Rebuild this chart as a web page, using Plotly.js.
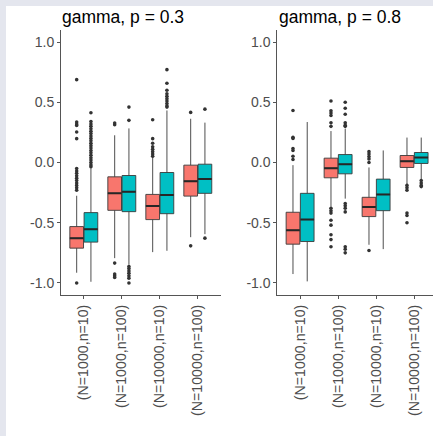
<!DOCTYPE html>
<html>
<head>
<meta charset="utf-8">
<script src="https://cdn.plot.ly/plotly-3.0.1.min.js"></script>
<style>html,body{margin:0;padding:0;background:#fff;}#chart{width:433px;height:436px;}</style>
</head>
<body>
<div id="chart"></div>
<script>
// ---- data ----
const categories = ["(N=1000,n=10)", "(N=1000,n=100)", "(N=10000,n=10)", "(N=10000,n=100)"];
const panelTitles = ["gamma, p = 0.3", "gamma, p = 0.8"];

// panel p = 0.3, red series
const p03RedQ1 = [-0.711, -0.397, -0.474, -0.279];
const p03RedMedian = [-0.628, -0.256, -0.361, -0.155];
const p03RedQ3 = [-0.532, -0.119, -0.265, -0.022];
const p03RedLower = [-0.915, -0.794, -0.744, -0.62];
const p03RedUpper = [-0.276, 0.226, 0.047, 0.363];
const p03RedOutliers = [
  [0.688, 0.336, 0.32, 0.308, 0.253, 0.198, -0.05, -0.07, -0.09, -0.11, -0.13, -0.15, -0.17, -0.19, -0.21, -0.23, -1.0],
  [0.327, 0.314, -0.835, -0.926, -0.94, -0.954],
  [0.355, 0.198, 0.16, 0.13, 0.11, 0.09, 0.07, 0.052],
  [0.416, -0.692]
];
// panel p = 0.3, teal series
const p03TealQ1 = [-0.661, -0.408, -0.425, -0.256];
const p03TealMedian = [-0.554, -0.243, -0.27, -0.138];
const p03TealQ3 = [-0.416, -0.108, -0.083, -0.014];
const p03TealLower = [-0.99, -0.849, -0.733, -0.595];
const p03TealUpper = [-0.05, 0.283, 0.432, 0.331];
const p03TealOutliers = [
  [0.413, 0.34, 0.32, 0.30, 0.28, 0.26, 0.24, 0.22, 0.20, 0.18, 0.16, 0.14, 0.12, 0.10, 0.08, 0.06, 0.04, 0.02, 0.0, -0.02, -0.036],
  [0.46, 0.35, -0.863, -0.88, -0.9, -0.92, -0.94, -0.96, -1.0],
  [0.771, 0.658, 0.6, 0.57, 0.55, 0.53, 0.51, 0.49, 0.47, 0.46],
  [0.443, -0.628]
];
// panel p = 0.8, red series
const p08RedQ1 = [-0.678, -0.127, -0.449, -0.041];
const p08RedMedian = [-0.562, -0.047, -0.369, 0.011];
const p08RedQ3 = [-0.413, 0.036, -0.289, 0.058];
const p08RedLower = [-0.926, -0.367, -0.683, -0.188];
const p08RedUpper = [-0.022, 0.261, -0.041, 0.207];
const p08RedOutliers = [
  [0.432, 0.21, 0.2, 0.116, 0.1, 0.052, 0.025],
  [0.51, 0.43, 0.41, 0.39, 0.33, 0.3, -0.38, -0.4, -0.42, -0.48, -0.52, -0.6, -0.64, -0.7],
  [0.09, 0.07, 0.05, 0.03, 0.0, -0.73],
  [-0.19, -0.21, -0.23, -0.42, -0.44, -0.5]
];
// panel p = 0.8, teal series
const p08TealQ1 = [-0.656, -0.094, -0.4, -0.008];
const p08TealMedian = [-0.474, -0.015, -0.265, 0.041];
const p08TealQ3 = [-0.256, 0.066, -0.138, 0.083];
const p08TealLower = [-0.987, -0.3, -0.719, -0.138];
const p08TealUpper = [0.336, 0.281, 0.1, 0.207];
const p08TealOutliers = [
  [],
  [0.5, 0.45, 0.4, 0.33, 0.31, 0.3, -0.34, -0.36, -0.38, -0.41, -0.7, -0.72, -0.75],
  [],
  [-0.15, -0.17, -0.19, -0.2]
];

const yTickVals = [-1.0, -0.5, 0.0, 0.5, 1.0];
const yTickText = ["-1.0", "-0.5", "0.0", "0.5", "1.0"];

// ---- styling ----
const RED = "#F8766D", TEAL = "#00BFC4";
const DODGE = 0.1875, BOXW = 0.36;
const FONT = "Liberation Sans, Arial, Helvetica, sans-serif";
const W = 433, H = 436;

const positions = categories.map((c, i) => i + 1);

function boxTrace(xa, ya, off, color, q1, med, q3, lo, up) {
  return {
    type: "box", xaxis: xa, yaxis: ya,
    x: positions.map(p => p + off),
    q1: q1, median: med, q3: q3, lowerfence: lo, upperfence: up,
    width: BOXW, whiskerwidth: 0, boxpoints: false,
    fillcolor: color, line: {color: "#3a3a3a", width: 0.9},
    hoverinfo: "skip", showlegend: false
  };
}
function medianTrace(xa, ya, off, med) {
  const xs = [], ys = [];
  med.forEach((m, i) => {
    xs.push(positions[i] + off - BOXW / 2, positions[i] + off + BOXW / 2, null);
    ys.push(m, m, null);
  });
  return {type: "scatter", mode: "lines", xaxis: xa, yaxis: ya, x: xs, y: ys,
    line: {color: "#262626", width: 2}, hoverinfo: "skip", showlegend: false};
}
function outlierTrace(xa, ya, off, outs) {
  const xs = [], ys = [];
  outs.forEach((arr, i) => arr.forEach(v => { xs.push(positions[i] + off); ys.push(v); }));
  return {type: "scatter", mode: "markers", xaxis: xa, yaxis: ya, x: xs, y: ys,
    marker: {color: "#333333", size: 3.6}, hoverinfo: "skip", showlegend: false};
}

const traces = [
  boxTrace("x", "y", -DODGE, RED, p03RedQ1, p03RedMedian, p03RedQ3, p03RedLower, p03RedUpper),
  boxTrace("x", "y", DODGE, TEAL, p03TealQ1, p03TealMedian, p03TealQ3, p03TealLower, p03TealUpper),
  medianTrace("x", "y", -DODGE, p03RedMedian),
  medianTrace("x", "y", DODGE, p03TealMedian),
  outlierTrace("x", "y", -DODGE, p03RedOutliers),
  outlierTrace("x", "y", DODGE, p03TealOutliers),
  boxTrace("x2", "y2", -DODGE, RED, p08RedQ1, p08RedMedian, p08RedQ3, p08RedLower, p08RedUpper),
  boxTrace("x2", "y2", DODGE, TEAL, p08TealQ1, p08TealMedian, p08TealQ3, p08TealLower, p08TealUpper),
  medianTrace("x2", "y2", -DODGE, p08RedMedian),
  medianTrace("x2", "y2", DODGE, p08TealMedian),
  outlierTrace("x2", "y2", -DODGE, p08RedOutliers),
  outlierTrace("x2", "y2", DODGE, p08TealOutliers)
];

const pxPerUnit = 38;
const leftX0 = 61, rightX0 = 277.3, plotTop = 30, plotBottom = 295;

function xAxis(x0, x1, anchor) {
  return {
    domain: [x0 / W, x1 / W], anchor: anchor,
    range: [0.4, 0.4 + (x1 - x0) / pxPerUnit],
    tickmode: "array", tickvals: positions, ticktext: categories,
    tickangle: -90, ticks: "outside", ticklen: 3, tickcolor: "#555",
    showline: true, linecolor: "#555", linewidth: 1,
    showgrid: false, zeroline: false, fixedrange: true,
    tickfont: {family: FONT, size: 14.2, color: "#4d4d4d"}
  };
}
function yAxis(anchor) {
  return {
    domain: [1 - plotBottom / H, 1 - plotTop / H], anchor: anchor,
    range: [-1.1, 1.1],
    tickmode: "array", tickvals: yTickVals, ticktext: yTickText,
    ticks: "outside", ticklen: 3, tickcolor: "#555",
    showline: true, linecolor: "#555", linewidth: 1,
    showgrid: false, zeroline: false, fixedrange: true,
    tickfont: {family: FONT, size: 14, color: "#4d4d4d"}
  };
}

const layout = {
  width: W, height: H,
  margin: {l: 0, r: 0, t: 0, b: 0},
  paper_bgcolor: "#e4e6ee", plot_bgcolor: "rgba(0,0,0,0)",
  showlegend: false,
  xaxis: xAxis(leftX0, leftX0 + 4.2 * pxPerUnit, "y"),
  yaxis: yAxis("x"),
  xaxis2: xAxis(rightX0, W, "y2"),
  yaxis2: yAxis("x2"),
  shapes: [{
    type: "rect", xref: "paper", yref: "paper", layer: "below",
    x0: 6 / W, x1: 1, y0: 0, y1: 1 - 6 / H,
    fillcolor: "#ffffff", line: {width: 0}
  }],
  annotations: panelTitles.map((t, i) => ({
    text: t, xref: "paper", yref: "paper", showarrow: false,
    x: (i === 0 ? leftX0 - 1 : rightX0) / W, xanchor: "left",
    y: 1 - 29 / H, yanchor: "bottom",
    font: {family: FONT, size: 17.5, color: "#000000"}
  }))
};

Plotly.newPlot("chart", traces, layout, {staticPlot: true, displayModeBar: false});
</script>
</body>
</html>
